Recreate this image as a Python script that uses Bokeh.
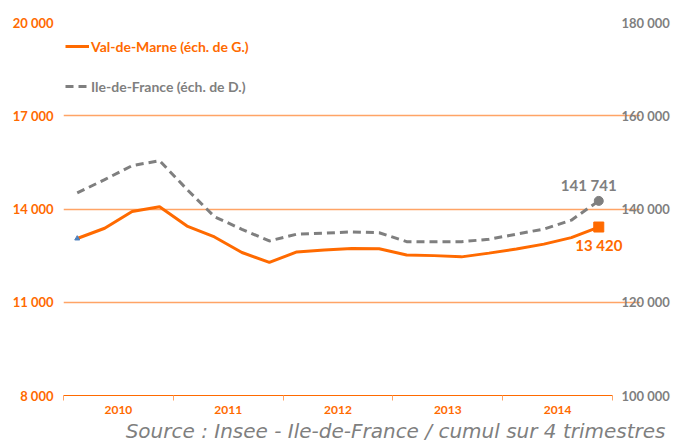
from bokeh.plotting import figure
from bokeh.models import (Range1d, LinearAxis, FixedTicker, Legend, LegendItem, Label, ColumnDataSource, Title, Grid)
from bokeh.embed import file_html
from bokeh.resources import INLINE

years = ["2010", "2011", "2012", "2013", "2014"]
vdm = [13050, 13380, 13920, 14070, 13450, 13100, 12600, 12280, 12620, 12680,
       12730, 12720, 12520, 12500, 12460, 12580, 12710, 12870, 13080, 13420]
idf = [143450, 146300, 149300, 150350, 144200, 138350, 135650, 133150, 134600, 134800,
       135100, 134900, 133000, 132950, 133000, 133500, 134600, 135700, 137600, 141741]
left_ticks = [8000, 11000, 14000, 17000, 20000]
right_ticks = [100000, 120000, 140000, 160000, 180000]
vdm_name = "Val-de-Marne (éch. de G.)"
idf_name = "Ile-de-France (éch. de D.)"
source_text = "Source : Insee - Ile-de-France / cumul sur 4 trimestres"

ORANGE = "#FF6A00"
GRID = "#FFA466"
GRAY = "#7F7F7F"
FONT = "Lato"

W, H = 673, 442
FRAME_LEFT, DATA_RIGHT, FRAME_RIGHT = 63, 612, 640
FRAME_TOP, FRAME_BOTTOM = 22, 397

def fmt(v):
    return f"{v:,}".replace(",", " ")

n = len(vdm)
xs = [i + 0.5 for i in range(n)]
x_end = n * (FRAME_RIGHT - FRAME_LEFT) / (DATA_RIGHT - FRAME_LEFT)

p = figure(width=W, height=H, output_backend="svg", toolbar_location=None,
           x_range=Range1d(0, x_end), y_range=Range1d(left_ticks[0], left_ticks[-1]),
           min_border_left=FRAME_LEFT, min_border_right=W - FRAME_RIGHT,
           min_border_top=FRAME_TOP, min_border_bottom=H - FRAME_BOTTOM,
           x_axis_type=None, y_axis_type=None)
p.extra_y_ranges = {"right": Range1d(right_ticks[0], right_ticks[-1])}
p.outline_line_color = None
p.background_fill_color = "white"
p.border_fill_color = "white"

ly = LinearAxis(ticker=FixedTicker(ticks=left_ticks),
                major_label_overrides={t: fmt(t) for t in left_ticks})
ly.axis_line_color = None
ly.major_tick_line_color = None
ly.minor_tick_line_color = None
ly.major_tick_out = 0
ly.minor_tick_out = 0
ly.major_label_text_color = ORANGE
ly.major_label_text_font = FONT
ly.major_label_text_font_style = "bold"
ly.major_label_text_font_size = "13px"
ly.major_label_standoff = 10
p.add_layout(ly, "left")

ry = LinearAxis(y_range_name="right", ticker=FixedTicker(ticks=right_ticks),
                major_label_overrides={t: fmt(t) for t in right_ticks})
ry.axis_line_color = None
ry.major_tick_line_color = None
ry.minor_tick_line_color = None
ry.major_tick_out = 0
ry.minor_tick_out = 0
ry.major_label_text_color = GRAY
ry.major_label_text_font = FONT
ry.major_label_text_font_style = "bold"
ry.major_label_text_font_size = "13px"
ry.major_label_standoff = -19
p.add_layout(ry, "right")

year_centers = [4 * i + 2 for i in range(len(years))]
bx = LinearAxis(ticker=FixedTicker(ticks=year_centers, minor_ticks=[4 * i for i in range(len(years) + 1)]),
                major_label_overrides={c: y for c, y in zip(year_centers, years)},
                bounds=(0, n))
bx.axis_line_color = ORANGE
bx.major_tick_line_color = None
bx.major_tick_out = 5
bx.major_tick_in = 0
bx.minor_tick_line_color = GRID
bx.minor_tick_out = 5
bx.minor_tick_in = 0
bx.major_label_text_color = ORANGE
bx.major_label_text_font = FONT
bx.major_label_text_font_style = "bold"
bx.major_label_text_font_size = "12px"
bx.major_label_standoff = 5
p.add_layout(bx, "below")

p.add_layout(Title(text=source_text, align="right", text_color=GRAY, text_font="DejaVu Sans",
                   text_font_style="italic", text_font_size="20px", offset=-25, standoff=0,
                   text_line_height=0.7), "below")

g = Grid(dimension=1, ticker=FixedTicker(ticks=left_ticks[1:]), bounds=(0, n))
g.grid_line_color = GRID
g.grid_line_width = 1.5
p.add_layout(g)

src = ColumnDataSource(dict(x=xs, vdm=vdm, idf=idf))
r_idf = p.line("x", "idf", source=src, y_range_name="right", line_color=GRAY,
               line_width=3, line_dash="8 5")
r_vdm = p.line("x", "vdm", source=src, line_color=ORANGE, line_width=3)

p.scatter([xs[-1]], [idf[-1]], y_range_name="right", marker="circle", size=9,
          fill_color=GRAY, line_color=GRAY)
p.scatter([xs[-1]], [vdm[-1]], marker="square", size=10, fill_color=ORANGE, line_color=ORANGE)
p.scatter([xs[0]], [vdm[0]], marker="triangle", size=5, fill_color="#4F81BD", line_color="#4F81BD")

p.add_layout(Label(x=xs[-1], y=idf[-1], y_range_name="right", text=fmt(idf[-1]),
                   text_color=GRAY, text_font=FONT, text_font_style="bold",
                   text_font_size="15px", text_align="center", text_baseline="bottom",
                   x_offset=-10, y_offset=7))
p.add_layout(Label(x=xs[-1], y=vdm[-1], text=fmt(vdm[-1]),
                   text_color=ORANGE, text_font=FONT, text_font_style="bold",
                   text_font_size="15px", text_align="center", text_baseline="top",
                   y_offset=-9))

def make_legend(item, color, center_y):
    lg = Legend(items=[item], location=(2, FRAME_BOTTOM - center_y - 11), orientation="vertical")
    lg.background_fill_alpha = 0
    lg.border_line_alpha = 0
    lg.margin = 0
    lg.padding = 0
    lg.glyph_width = 24
    lg.glyph_height = 20
    lg.label_height = 20
    lg.label_standoff = 2
    lg.label_text_font = FONT
    lg.label_text_font_size = "14px"
    lg.label_text_font_style = "bold"
    lg.label_text_color = color
    return lg

p.add_layout(make_legend(LegendItem(label=vdm_name, renderers=[r_vdm]), ORANGE, 47))
p.add_layout(make_legend(LegendItem(label=idf_name, renderers=[r_idf]), GRAY, 87))

html = file_html(p, INLINE)
open("out.html", "w").write(html)
